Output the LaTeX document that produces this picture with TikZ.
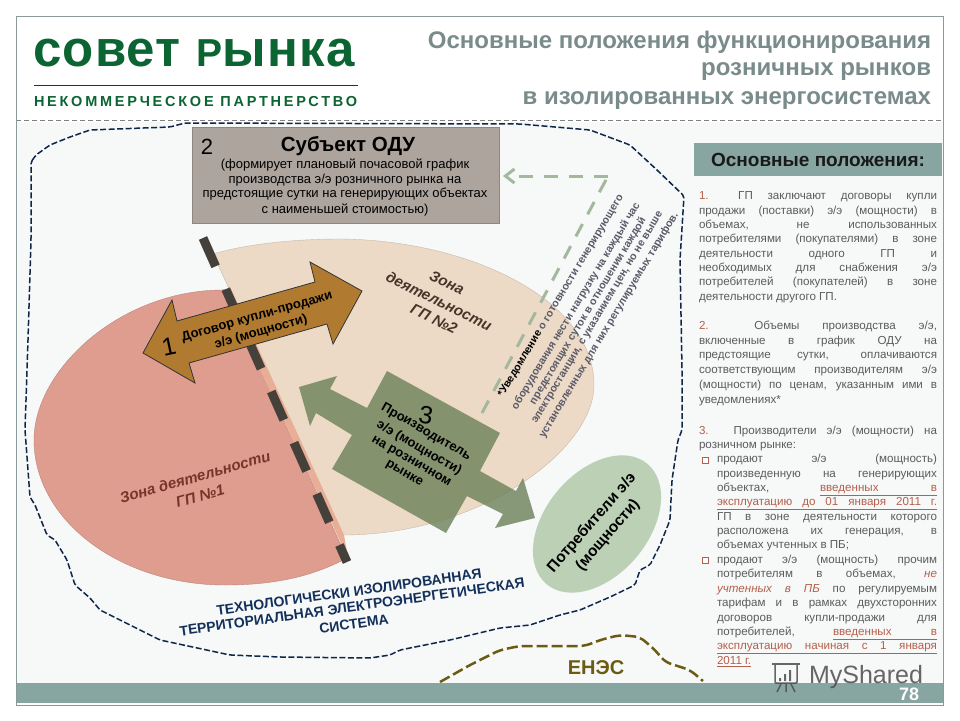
\documentclass[tikz,border=0pt]{standalone}
\usepackage{fontspec}
\setmainfont{Liberation Sans}
\newfontfamily\spaced[LetterSpace=19]{Liberation Sans}
\newfontfamily\logofont[LetterSpace=2.5]{Liberation Sans}
\usetikzlibrary{arrows.meta,shapes.geometric}
\definecolor{barc}{HTML}{87A5A1}
\definecolor{bgc}{HTML}{F7F8F8}
\definecolor{framec}{HTML}{8A9A9A}
\definecolor{logoc}{HTML}{0B6431}
\definecolor{titlec}{HTML}{7A8B8B}
\definecolor{pinkc}{HTML}{DE9D8F}
\definecolor{beigec}{HTML}{ECDAC6}
\definecolor{stripc}{HTML}{E8AE96}
\definecolor{cutc}{HTML}{45403A}
\definecolor{boxc}{HTML}{ACA49D}
\definecolor{brownc}{HTML}{B07B30}
\definecolor{greenc}{HTML}{6C8059}
\definecolor{ellc}{HTML}{BCD0B6}
\definecolor{navyc}{HTML}{12305A}
\definecolor{olivec}{HTML}{6B5C14}
\definecolor{dashg}{HTML}{A3B89C}
\definecolor{bodyc}{HTML}{5C5C5C}
\definecolor{redc}{HTML}{B5604C}
\definecolor{notec}{HTML}{5A5A68}
\newcommand{\fs}[1]{\fontsize{#1}{#1}\selectfont}
\newcommand{\jl}[1]{\makebox[238pt][s]{#1}\\}
\newcommand{\jb}[1]{\makebox[220pt][s]{#1}\\}
\newcommand{\rd}[1]{\textcolor{redc}{#1}}
\tikzset{
  plain/.style={inner sep=0pt,outer sep=0pt},
  titleline/.style={plain,anchor=east,text=titlec,font=\bfseries\fs{24}},
  oduline/.style={plain,text=black,font=\fs{13}},
  notel/.style={plain,rotate=59,text=notec,font=\bfseries\fs{10.7}},
  brownl/.style={plain,rotate=16,text=black,font=\bfseries\fs{13}},
  greenl/.style={plain,rotate=-30,text=black,font=\bfseries\fs{13}},
  consl/.style={plain,rotate=49,text=black,font=\bfseries\fs{15.5}},
  zoneone/.style={plain,rotate=16,text={rgb,255:red,122;green,51;blue,40},font=\bfseries\itshape\fs{15}},
  zonetwo/.style={plain,rotate=-26,text={rgb,255:red,74;green,51;blue,40},font=\bfseries\itshape\fs{15}},
  sysl/.style={plain,rotate=8,text=navyc,font=\bfseries\fs{14}},
  bodyl/.style={plain,anchor=north west,align=left,text=bodyc},
  bound/.style={draw=navyc!80!black,line width=1.5pt,dash pattern=on 6pt off 2.5pt,rounded corners=2pt},
  enes/.style={draw=olivec,line width=2.5pt,dash pattern=on 11pt off 4pt,rounded corners=6pt},
  notearrow/.style={draw=dashg,line width=3pt,dash pattern=on 14pt off 11pt},
  bulletbox/.style={draw=redc,line width=1pt,fill=white},
  wm/.style={draw=black!70,opacity=.85,line width=1.5pt}
}
\begin{document}
\begin{tikzpicture}[x=1pt,y=-1pt]
\useasboundingbox (0,0) rectangle (960,720);
\fill[white] (0,0) rectangle (960,720);
\fill[bgc] (17,122) rectangle (943,683);
% logo
\node[plain,anchor=base west,text=logoc,font=\logofont\bfseries\fs{51}] (logo) at (33,66) {совет {\fs{39}Р}ынка};
\coordinate (rulea) at (34,85); \coordinate (ruleb) at (358,85);
\draw[logoc!70!black,line width=.8pt] (rulea) -- (ruleb);
\node[plain,anchor=base west,text=logoc,font=\spaced\bfseries\fs{14.5}] (np) at (34,106.5) {НЕКОММЕРЧЕСКОЕ ПАРТНЕРСТВО};
% title
\node[titleline] (t1) at (931,42) {Основные положения функционирования};
\node[titleline] (t2) at (931,72) {розничных рынков};
\node[titleline] (t3) at (931,101) {в изолированных энергосистемах};
\coordinate (da) at (16,120); \coordinate (db) at (943,120);
\draw[black!50,line width=1pt,dash pattern=on 5pt off 3pt] (da) -- (db);
% zones
\fill[beigec,draw=beigec!85!black,line width=.4pt] (213,254) .. controls (250,243) and (300,239) .. (340,239)
  .. controls (470,240) and (594,300) .. (594,385)
  .. controls (594,450) and (480,535) .. (343,535) -- cycle;
\fill[pinkc,draw=pinkc!85!black,line width=.4pt] (223,290) .. controls (120,290) and (34,370) .. (34,440)
  .. controls (34,520) and (120,585) .. (225,585)
  .. controls (270,585) and (310,578) .. (347,558) -- cycle;
\fill[stripc] (222,289) -- (231,289) -- (344,535) -- (348,558) -- cycle;
\coordinate (cuta) at (203,238); \coordinate (cutb) at (347,562);
\draw[cutc,line width=9pt,dash pattern=on 31pt off 25pt] (cuta) -- (cutb);
% boundaries
\draw[bound] (31,162) -- (36,155) -- (50,145) -- (70,137) -- (90,130) -- (170,127) -- (185,123) -- (520,124)
  -- (590,130) -- (630,145) -- (657,170) -- (684,196) -- (680,260) -- (682,370) -- (682,430) -- (678,440)
  -- (672,480) -- (670,520) -- (660,545) -- (650,565) -- (640,570) -- (635,585) -- (610,597) -- (580,610)
  -- (560,615) -- (530,625) -- (500,628) -- (450,640) -- (400,650) -- (390,655) -- (370,658) -- (280,657)
  -- (230,655) -- (160,640) -- (100,610) -- (90,598) -- (75,585) -- (67,560) -- (55,540) -- (47,535)
  -- (35,505) -- (30,497) -- (25,430) -- (28,340) -- (31,240) -- cycle;
\draw[enes] (440,682) -- (470,665) -- (500,650) -- (520,646) -- (585,646) -- (600,640) -- (620,635)
  -- (640,637) -- (655,650) -- (665,662) -- (690,670) -- (703,681);
\node[plain,text=olivec,font=\bfseries\fs{20}] (enesl) at (596,668) {ЕНЭС};
% ODU box
\node[plain,fill=boxc,draw=boxc!82!black,line width=.8pt,minimum width=307pt,minimum height=96pt] (odu) at (345.5,175) {};
\node[plain,text=black,font=\fs{22}] (odun) at (207,147) {2};
\node[plain,text=black,font=\bfseries\fs{20.5}] (odut) at (348,146) {Субъект ОДУ};
\node[oduline] (o1) at (345,165) {(формирует плановый почасовой график};
\node[oduline] (o2) at (345,180) {производства э/э розничного рынка на};
\node[oduline] (o3) at (345,194) {предстоящие сутки на генерирующих объектах};
\node[oduline] (o4) at (345,210) {с наименьшей стоимостью)};
% note
\coordinate (nc) at (608,176); \coordinate (nd) at (482,413); \coordinate (ne) at (503,176);
\draw[notearrow] (nd) -- (nc);
\draw[notearrow,-{Straight Barb[length=9pt,width=14pt]}] (nc) -- (ne);
% brown arrow
\fill[brownc,draw=black!80,line width=.8pt] (143,353) -- (172,300) -- (177,321) -- (315,282) -- (310,262) -- (362,291)
  -- (333,344) -- (327,324) -- (189,363) -- (195,383) -- cycle;
\node[plain,rotate=12,text=black,font=\fs{25}] (n1) at (169,347) {1};
\node[brownl] (b1) at (257,317) {Договор купли-продажи};
\node[brownl] (b2) at (261,332) {э/э (мощности)};
% green arrow
\fill[greenc,opacity=.8] (299,387) -- (337,376) -- (330,389) -- (367,408) -- (387,371) -- (500,433) -- (480,471)
  -- (516,491) -- (523,478) -- (535,518) -- (495,528) -- (503,514) -- (467,496) -- (446,533) -- (332,469)
  -- (352,435) -- (316,413) -- (310,426) -- cycle;
\node[plain,rotate=-10,text=black,font=\fs{25}] (n3) at (426,415) {3};
\node[greenl] (g1) at (426,432) {Производитель};
\node[greenl] (g2) at (419,448) {э/э (мощности)};
\node[greenl] (g3) at (411,462) {на розничном};
\node[greenl] (g4) at (404,474) {рынке};
% consumers
\node[plain,ellipse,fill=ellc,rotate=50,minimum width=157pt,minimum height=103pt] (cons) at (597,524) {};
\node[consl] (c1) at (592,523) {Потребители э/э};
\node[consl] (c2) at (608,535) {(мощности)};
% zone labels
\node[zoneone] (z1) at (195,477) {Зона деятельности};
\node[zoneone] (z1b) at (200,496) {ГП №1};
\node[zonetwo] (z2) at (447,283) {Зона};
\node[zonetwo] (z2b) at (439,301) {деятельности};
\node[zonetwo] (z2c) at (434,319) {ГП №2};
% notification
\node[notel] (l1) at (561,296) {\textcolor{black}{*Уведомление} о готовности генерирующего};
\node[notel] (l2) at (576,306) {оборудования нести нагрузку на каждый час};
\node[notel] (l3) at (588,311) {предстоящих суток в отношении каждой};
\node[notel] (l4) at (598,318) {электростанции, с указанием цен, но не выше};
\node[notel] (l5) at (609,325) {установленных для них регулируемых тарифов.};
% system
\node[sysl] (s1) at (349,592) {ТЕХНОЛОГИЧЕСКИ ИЗОЛИРОВАННАЯ};
\node[sysl] (s2) at (352,607) {ТЕРРИТОРИАЛЬНАЯ ЭЛЕКТРОЭНЕРГЕТИЧЕСКАЯ};
\node[sysl] (s3) at (354,624) {СИСТЕМА};
% right panel
\node[plain,fill=barc,minimum width=248pt,minimum height=33pt] (head) at (818,159.5) {};
\node[plain,text=black!90,font=\bfseries\fs{19}] (headt) at (818,160) {Основные положения:};
\node[bodyl,font=\fontsize{11.6}{14.3}\selectfont] (p1) at (699,192) {%
\jl{\rd{1.}\ \ ГП заключают договоры купли}
\jl{продажи (поставки) э/э (мощности) в}
\jl{объемах, не использованных}
\jl{потребителями (покупателями) в зоне}
\jl{деятельности одного ГП и}
\jl{необходимых для снабжения э/э}
\jl{потребителей (покупателей) в зоне}
деятельности другого ГП.};
\node[bodyl,font=\fontsize{11.6}{14.7}\selectfont] (p2) at (699,321) {%
\jl{\rd{2.}\ \ Объемы производства э/э,}
\jl{включенные в график ОДУ на}
\jl{предстоящие сутки, оплачиваются}
\jl{соответствующим производителям э/э}
\jl{(мощности) по ценам, указанным ими в}
уведомлениях*};
\node[bodyl,font=\fontsize{11.6}{14.4}\selectfont] (p3) at (699,426) {%
\jl{\rd{3.} Производители э/э (мощности) на}
розничном рынке:};
\node[bodyl,font=\fontsize{11.6}{14.3}\selectfont] (p4) at (717,454.5) {%
\jb{продают э/э (мощность)}
\jb{произведенную на генерирующих}
\jb{объектах, \hfill \rd{\underline{\makebox[117pt][s]{введенных в}}}}
\jb{\rd{\underline{\makebox[220pt][s]{эксплуатацию до 01 января 2011 г.}}}}
\jb{ГП в зоне деятельности которого}
\jb{расположена их генерация, в}
объемах учтенных в ПБ;};
\node[bodyl,font=\fontsize{11.6}{14.4}\selectfont] (p5) at (717,555) {%
\jb{продают э/э (мощность) прочим}
\jb{потребителям в объемах, \rd{\itshape не}}
\jb{\rd{\itshape учтенных в ПБ} по регулируемым}
\jb{тарифам и в рамках двухсторонних}
\jb{договоров купли-продажи для}
\jb{потребителей, \hfill \rd{\underline{\makebox[104pt][s]{введенных в}}}}
\jb{\rd{\underline{\makebox[220pt][s]{эксплуатацию начиная с 1 января}}}}
\rd{\underline{2011 г.}}};
\draw[bulletbox] (702,457) rectangle (708,463);
\draw[bulletbox] (702,557) rectangle (708,563);
% footer
\fill[barc] (17,683) rectangle (943,703);
\node[plain,text=white,font=\bfseries\fs{18}] (pg) at (909,694) {78};
% watermark
\draw[wm] (772,664) -- (800,664);
\draw[wm,rounded corners=1pt] (775,665) -- (775,683) -- (797,683) -- (797,665);
\fill[black!70,opacity=.85] (779,678) rectangle (781,681) (784,674) rectangle (786,681) (789,670) rectangle (791,681);
\draw[wm] (781,684) -- (777,692) (786,684) -- (786,692) (791,684) -- (795,692);
\node[plain,anchor=base west,text=black!70,opacity=.85,font=\fs{25}] (mys) at (809,683) {MyShared};
% frame
\draw[framec,line width=1pt] (16,16) rectangle (943.5,705);
\end{tikzpicture}
\end{document}
